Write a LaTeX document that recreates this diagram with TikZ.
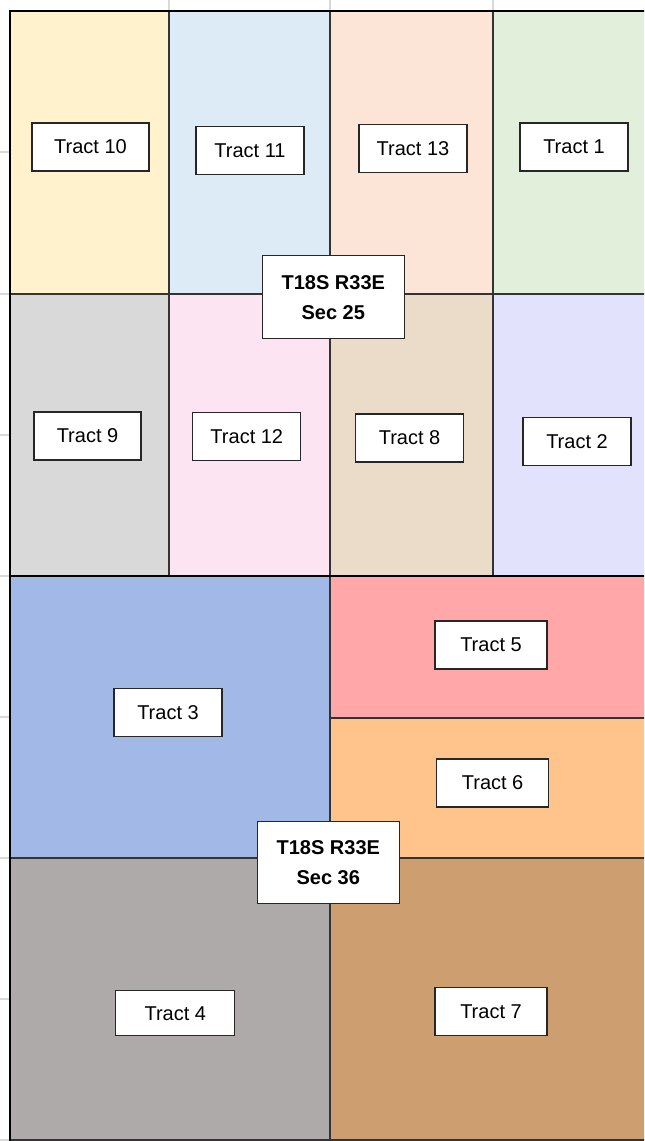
\documentclass[tikz,border=0pt]{standalone}
\usepackage{fontspec}
\setmainfont{Liberation Sans}
\begin{document}
\begin{tikzpicture}[x=0.75pt,y=-0.75pt,
  thinline/.style={draw=black!80,line width=0.8pt},
  thickline/.style={draw=black,line width=2pt},
  tick/.style={draw=black!15,line width=0.8pt},
  tbox/.style 2 args={draw=black!85,line width=1pt,fill=white,inner sep=0pt,
     minimum width=#1*0.75pt,minimum height=#2*0.75pt,
     font=\fontsize{15}{18}\selectfont},
  secbox/.style 2 args={draw=black!85,line width=1pt,fill=white,inner sep=0pt,
     minimum width=#1*0.75pt,minimum height=#2*0.75pt,align=center,
     font=\fontsize{15}{22.5}\selectfont\bfseries}]
\definecolor{c10}{HTML}{FFF2CC}
\definecolor{c11}{HTML}{DDEBF7}
\definecolor{c13}{HTML}{FCE4D6}
\definecolor{c1}{HTML}{E2EFDA}
\definecolor{c9}{HTML}{D9D9D9}
\definecolor{c12}{HTML}{FDE4F2}
\definecolor{c8}{HTML}{EBDBC9}
\definecolor{c2}{HTML}{E2E2FC}
\definecolor{c3}{HTML}{A2B8E6}
\definecolor{c5}{HTML}{FFA7A9}
\definecolor{c6}{HTML}{FFC48C}
\definecolor{c4}{HTML}{AEAAAA}
\definecolor{c7}{HTML}{CD9E70}
\useasboundingbox (0,0) rectangle (644,1141);
\clip (0,0) rectangle (644,1141);
\fill[white] (0,0) rectangle (644,1141);
% ticks
\foreach \yy in {152,294,435,576,717,858,999,1140} \draw[tick] (0,\yy) -- (9,\yy);
\foreach \xx in {169,330,493} \draw[tick] (\xx,0) -- (\xx,10);
% fills
\fill[c10] (10,11) rectangle (169,294);
\fill[c11] (169,11) rectangle (330,294);
\fill[c13] (330,11) rectangle (493,294);
\fill[c1] (493,11) rectangle (650,294);
\fill[c9] (10,294) rectangle (169,576);
\fill[c12] (169,294) rectangle (330,576);
\fill[c8] (330,294) rectangle (493,576);
\fill[c2] (493,294) rectangle (650,576);
\fill[c3] (10,576) rectangle (330,858);
\fill[c5] (330,576) rectangle (650,718);
\fill[c6] (330,718) rectangle (650,858);
\fill[c4] (10,858) rectangle (330,1140);
\fill[c7] (330,858) rectangle (650,1140);
% thin lines
\draw[thinline] (169,11) -- (169,576);
\draw[thinline] (330,11) -- (330,1140);
\draw[thinline] (493,11) -- (493,576);
\draw[thinline] (10,294) -- (650,294);
\draw[thinline] (330,718) -- (650,718);
\draw[thinline] (10,858) -- (650,858);
\draw[thinline] (10,1140) -- (650,1140);
% thick lines
\draw[thickline] (10,1141) -- (10,11) -- (650,11);
\draw[thickline] (10,576) -- (650,576);
% labels
\node[tbox={117}{48}] (t10) at (90.5,147) {Tract 10};
\node[tbox={108}{48}] (t11) at (250,150.3) {Tract 11};
\node[tbox={108}{48}] (t13) at (413,148.5) {Tract 13};
\node[tbox={108}{48}] (t1) at (574,147) {Tract 1};
\node[tbox={107}{48}] (t9) at (87.5,436) {Tract 9};
\node[tbox={108}{48}] (t12) at (246.8,436.5) {Tract 12};
\node[tbox={108}{48}] (t8) at (409.6,437.9) {Tract 8};
\node[tbox={108}{48}] (t2) at (577,441.3) {Tract 2};
\node[tbox={108}{48}] (t3) at (168,712.3) {Tract 3};
\node[tbox={112}{48}] (t5) at (491,645) {Tract 5};
\node[tbox={112}{48}] (t6) at (492.6,783) {Tract 6};
\node[tbox={119}{45}] (t4) at (175.3,1013.3) {Tract 4};
\node[tbox={112}{48}] (t7) at (491,1011.7) {Tract 7};
\node[secbox={142}{83}] (s25) at (333.3,297.2) {T18S R33E\\Sec 25};
\node[secbox={142}{82}] (s36) at (328.3,862.8) {T18S R33E\\Sec 36};
\end{tikzpicture}
\end{document}
